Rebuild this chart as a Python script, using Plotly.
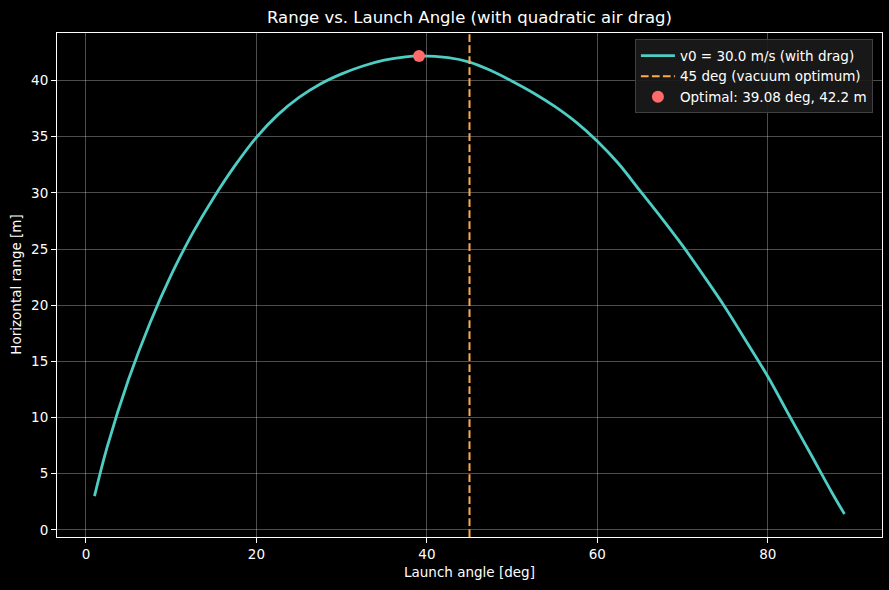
import plotly.graph_objects as go

# Data (launch angle in degrees, horizontal range in metres)
angles_deg = [1, 2.5, 5, 7.5, 10, 12.5, 15, 17.5, 20, 22.5, 25, 27.5, 30, 32.5, 35, 37.5, 39.08,
              42.5, 45, 47.5, 50, 52.5, 55, 57.5, 60, 62.5, 65, 67.5, 70, 72.5, 75, 77.5, 80, 82.5, 85, 87.5, 89]
range_m = [3.0, 7.4, 13.4, 18.4, 22.7, 26.4, 29.6, 32.45, 34.95, 36.95, 38.5, 39.7, 40.6, 41.3, 41.82, 42.12, 42.2,
           42.05, 41.65, 40.9, 39.95, 38.9, 37.7, 36.3, 34.6, 32.6, 30.2, 27.8, 25.3, 22.6, 19.8, 16.75, 13.65,
           10.2, 6.8, 3.35, 1.4]
opt_angle = [39.08]
opt_range = [42.2]
vacuum_angle = 45

x_ticks = [0, 20, 40, 60, 80]
y_ticks = [0, 5, 10, 15, 20, 25, 30, 35, 40]
x_range = [-3.4, 93.4]
y_range = [-0.64, 44.24]

FONT = "DejaVu Sans"
fig = go.Figure()

fig.add_trace(go.Scatter(
    x=angles_deg, y=range_m, mode="lines",
    line=dict(color="#4ECDC4", width=2.8, shape="spline", smoothing=1.0),
    name="v0 = 30.0 m/s (with drag)"))
fig.add_trace(go.Scatter(
    x=[vacuum_angle, vacuum_angle], y=y_range, mode="lines",
    line=dict(color="#FFA94D", width=2, dash="7.7px,3.3px"),
    name="45 deg (vacuum optimum)"))
fig.add_trace(go.Scatter(
    x=opt_angle, y=opt_range, mode="markers", marker=dict(color="#FF6B6B", size=12),
    name="Optimal: 39.08 deg, 42.2 m"))

axis_common = dict(
    showline=True, linecolor="white", linewidth=1, mirror=True,
    ticks="outside", ticklen=5, tickcolor="white", tickwidth=1,
    showgrid=True, gridcolor="rgba(255,255,255,0.3)", gridwidth=1,
    zeroline=False, tickfont=dict(family=FONT, size=13.5, color="white"),
    automargin=False,
)

fig.update_layout(
    width=889, height=590,
    paper_bgcolor="black", plot_bgcolor="black",
    margin=dict(l=57, r=7, t=33, b=53, autoexpand=False),
    font=dict(family=FONT, color="white", size=13.5),
    title=dict(text="Range vs. Launch Angle (with quadratic air drag)", x=(57 + 882) / 2 / 889, xanchor="center",
               y=1 - 17 / 590, yanchor="middle", font=dict(family=FONT, size=16.5, color="white")),
    xaxis=dict(range=x_range, tickvals=x_ticks, **axis_common),
    yaxis=dict(range=y_range, tickvals=y_ticks, **axis_common),
    legend=dict(x=0.989, y=0.9875, xanchor="right", yanchor="top",
                bgcolor="rgba(26,26,26,0.92)", bordercolor="#404040", borderwidth=1,
                itemwidth=34,
                font=dict(family=FONT, size=13.5, color="white"), tracegroupgap=0),
    showlegend=True,
    annotations=[
        dict(text="Launch angle [deg]", xref="paper", yref="paper", x=0.5, y=(537.2 - 572) / 504.5,
             xanchor="center", yanchor="middle", showarrow=False, font=dict(family=FONT, size=13.5, color="white")),
        dict(text="Horizontal range [m]", xref="paper", yref="paper", x=(16 - 57.3) / 824.7, y=0.5,
             xanchor="center", yanchor="middle", textangle=-90, showarrow=False,
             font=dict(family=FONT, size=13.5, color="white")),
    ],
)

fig.write_html("out.html", config={"displayModeBar": False},
               post_script="document.body.style.margin='0';document.body.style.background='black';")
